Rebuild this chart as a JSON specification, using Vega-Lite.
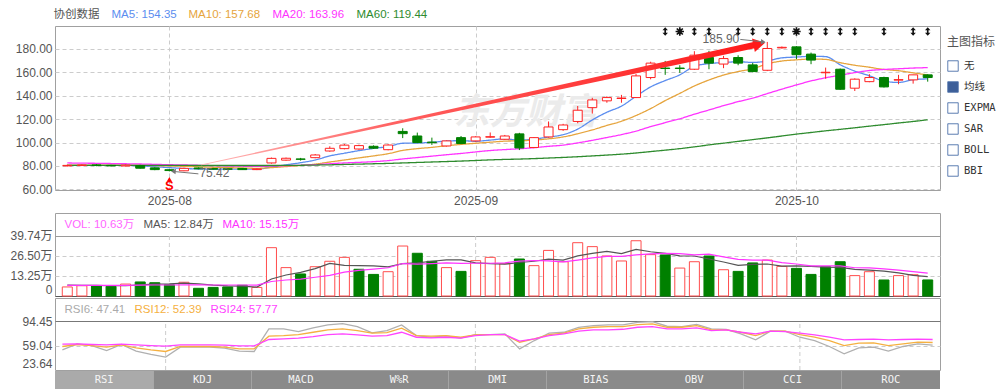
{
  "$schema": "https://vega.github.io/schema/vega-lite/v6.json",
  "background": "#ffffff",
  "padding": {"left": 0, "top": 8, "right": 0, "bottom": 0},
  "spacing": 0,
  "resolve": {"scale": {"color": "independent"}, "legend": {"color": "independent"}},
  "config": {
    "font": "Liberation Sans, Noto Sans CJK SC",
    "view": {"stroke": "#a0a0a0", "strokeWidth": 1},
    "axis": {"labelFont": "Liberation Sans, Noto Sans CJK SC", "labelFontSize": 12, "labelColor": "#555555", "ticks": false, "domain": false, "labelPadding": 3, "labelOverlap": false},
    "axisY": {"minExtent": 54, "maxExtent": 54},
    "legend": {"labelFont": "Liberation Sans, Noto Sans CJK SC", "labelFontSize": 11.5, "labelLimit": 400}
  },
  "datasets": {
    "k": [
      {"i":0,"o":80.1,"h":81.2,"l":79.6,"c":80.5,"v":6.0,"r":1,"m5":80.6,"m10":80.8,"m20":82.6,"m60":80.6,"vm5":7.3,"vm10":7.0,"r6":52.8,"r12":57.6,"r24":61.0},
      {"i":1,"o":80.5,"h":81.3,"l":79.9,"c":80.8,"v":6.8,"r":1,"m5":80.6,"m10":80.8,"m20":82.4,"m60":80.6,"vm5":7.1,"vm10":7.0,"r6":61.4,"r12":60.5,"r24":61.4},
      {"i":2,"o":80.9,"h":81.5,"l":79.8,"c":80.4,"v":6.8,"r":0,"m5":80.6,"m10":80.7,"m20":82.3,"m60":80.6,"vm5":7.0,"vm10":7.0,"r6":59.0,"r12":59.0,"r24":60.5},
      {"i":3,"o":80.5,"h":81.0,"l":79.6,"c":80.1,"v":6.4,"r":0,"m5":80.5,"m10":80.7,"m20":82.1,"m60":80.6,"vm5":6.8,"vm10":7.0,"r6":51.8,"r12":56.6,"r24":60.0},
      {"i":4,"o":80.0,"h":81.3,"l":79.7,"c":80.7,"v":7.9,"r":1,"m5":80.5,"m10":80.7,"m20":81.9,"m60":80.5,"vm5":6.8,"vm10":7.1,"r6":60.5,"r12":60.0,"r24":61.0},
      {"i":5,"o":80.4,"h":81.0,"l":77.8,"c":78.1,"v":9.3,"r":0,"m5":80.1,"m10":80.6,"m20":81.7,"m60":80.5,"vm5":7.4,"vm10":7.2,"r6":50.9,"r12":55.7,"r24":60.0},
      {"i":6,"o":78.4,"h":78.9,"l":76.4,"c":76.9,"v":8.8,"r":0,"m5":79.4,"m10":80.3,"m20":81.4,"m60":80.5,"vm5":7.8,"vm10":7.3,"r6":46.1,"r12":52.8,"r24":59.0},
      {"i":7,"o":76.8,"h":77.3,"l":75.42,"c":76.1,"v":7.5,"r":0,"m5":78.6,"m10":80.0,"m20":81.1,"m60":80.5,"vm5":8.0,"vm10":7.3,"r6":42.2,"r12":50.4,"r24":58.1},
      {"i":8,"o":75.9,"h":78.5,"l":75.6,"c":78.0,"v":9.1,"r":1,"m5":77.9,"m10":79.7,"m20":80.9,"m60":80.5,"vm5":8.5,"vm10":7.4,"r6":56.6,"r12":57.6,"r24":60.0},
      {"i":9,"o":78.3,"h":78.8,"l":77.2,"c":77.6,"v":5.1,"r":0,"m5":77.4,"m10":79.3,"m20":80.6,"m60":80.4,"vm5":8.0,"vm10":7.4,"r6":56.6,"r12":57.6,"r24":60.0},
      {"i":10,"o":77.8,"h":78.4,"l":77.0,"c":77.3,"v":5.7,"r":0,"m5":77.2,"m10":78.9,"m20":80.3,"m60":80.4,"vm5":7.2,"vm10":7.3,"r6":56.6,"r12":57.6,"r24":60.0},
      {"i":11,"o":77.6,"h":78.2,"l":76.9,"c":77.2,"v":6.0,"r":0,"m5":77.3,"m10":78.6,"m20":80.0,"m60":80.4,"vm5":6.7,"vm10":7.3,"r6":55.2,"r12":56.6,"r24":59.5},
      {"i":12,"o":77.9,"h":78.3,"l":76.6,"c":76.9,"v":7.1,"r":0,"m5":77.4,"m10":78.3,"m20":79.8,"m60":80.4,"vm5":6.6,"vm10":7.3,"r6":50.9,"r12":54.2,"r24":58.6},
      {"i":13,"o":76.9,"h":77.9,"l":76.5,"c":77.5,"v":5.7,"r":1,"m5":77.3,"m10":78.0,"m20":79.6,"m60":80.4,"vm5":5.9,"vm10":7.2,"r6":50.4,"r12":54.2,"r24":58.6},
      {"i":14,"o":82.6,"h":87.2,"l":82.0,"c":86.5,"v":32.0,"r":1,"m5":79.1,"m10":78.6,"m20":79.9,"m60":80.4,"vm5":11.3,"vm10":9.6,"r6":83.0,"r12":72.5,"r24":67.7},
      {"i":15,"o":85.0,"h":87.2,"l":84.5,"c":86.6,"v":18.8,"r":1,"m5":81.0,"m10":79.5,"m20":80.3,"m60":80.5,"vm5":13.9,"vm10":10.6,"r6":83.0,"r12":73.4,"r24":68.6},
      {"i":16,"o":86.0,"h":86.9,"l":84.6,"c":85.7,"v":14.6,"r":0,"m5":82.8,"m10":80.4,"m20":80.6,"m60":80.6,"vm5":15.6,"vm10":11.2,"r6":79.2,"r12":74.9,"r24":69.6},
      {"i":17,"o":87.1,"h":90.2,"l":86.6,"c":89.4,"v":19.4,"r":1,"m5":85.1,"m10":81.6,"m20":81.1,"m60":80.8,"vm5":18.1,"vm10":12.4,"r6":84.5,"r12":78.2,"r24":72.0},
      {"i":18,"o":92.8,"h":96.8,"l":92.2,"c":95.1,"v":23.0,"r":1,"m5":88.6,"m10":83.4,"m20":81.9,"m60":81.0,"vm5":21.6,"vm10":13.7,"r6":88.8,"r12":81.6,"r24":74.9},
      {"i":19,"o":94.8,"h":98.8,"l":94.2,"c":97.8,"v":25.6,"r":1,"m5":90.9,"m10":85.1,"m20":82.6,"m60":81.3,"vm5":20.3,"vm10":15.8,"r6":90.7,"r12":83.0,"r24":75.8},
      {"i":20,"o":94.5,"h":98.2,"l":93.8,"c":97.4,"v":17.7,"r":0,"m5":93.1,"m10":86.9,"m20":83.1,"m60":81.6,"vm5":20.1,"vm10":17.0,"r6":86.4,"r12":80.6,"r24":74.3},
      {"i":21,"o":96.8,"h":97.6,"l":94.6,"c":95.2,"v":14.3,"r":0,"m5":95.0,"m10":88.6,"m20":83.7,"m60":81.9,"vm5":20.0,"vm10":17.8,"r6":77.3,"r12":76.8,"r24":72.5},
      {"i":22,"o":93.9,"h":98.6,"l":93.4,"c":97.9,"v":16.1,"r":1,"m5":96.6,"m10":90.5,"m20":84.6,"m60":82.2,"vm5":19.3,"vm10":18.7,"r6":80.6,"r12":77.7,"r24":73.4},
      {"i":23,"o":109.5,"h":112.2,"l":103.8,"c":107.6,"v":33.1,"r":1,"m5":99.4,"m10":93.3,"m20":86.0,"m60":82.6,"vm5":21.4,"vm10":21.5,"r6":88.8,"r12":84.0,"r24":78.2},
      {"i":24,"o":105.6,"h":108.5,"l":99.5,"c":100.0,"v":28.3,"r":0,"m5":99.6,"m10":94.8,"m20":87.2,"m60":83.0,"vm5":21.9,"vm10":21.1,"r6":73.4,"r12":73.4,"r24":71.0},
      {"i":25,"o":100.4,"h":104.2,"l":98.0,"c":99.9,"v":23.0,"r":0,"m5":100.2,"m10":95.9,"m20":88.4,"m60":83.4,"vm5":23.0,"vm10":21.5,"r6":71.0,"r12":72.5,"r24":70.0},
      {"i":26,"o":97.1,"h":101.8,"l":96.6,"c":101.4,"v":18.8,"r":1,"m5":101.3,"m10":97.3,"m20":89.6,"m60":83.8,"vm5":23.9,"vm10":21.9,"r6":72.9,"r12":73.4,"r24":71.0},
      {"i":27,"o":104.2,"h":105.6,"l":98.6,"c":99.2,"v":16.3,"r":0,"m5":101.6,"m10":98.4,"m20":90.7,"m60":84.2,"vm5":23.9,"vm10":21.6,"r6":69.6,"r12":71.0,"r24":69.6},
      {"i":28,"o":101.4,"h":105.4,"l":100.8,"c":104.8,"v":23.4,"r":1,"m5":101.1,"m10":99.4,"m20":92.0,"m60":84.7,"vm5":22.0,"vm10":21.7,"r6":74.9,"r12":74.3,"r24":73.4},
      {"i":29,"o":104.6,"h":108.6,"l":104.0,"c":105.0,"v":25.6,"r":1,"m5":102.1,"m10":100.3,"m20":93.2,"m60":85.2,"vm5":21.4,"vm10":21.7,"r6":74.9,"r12":74.9,"r24":74.9},
      {"i":30,"o":102.8,"h":106.5,"l":102.2,"c":105.6,"v":21.4,"r":1,"m5":103.2,"m10":101.2,"m20":94.0,"m60":85.6,"vm5":21.1,"vm10":22.0,"r6":75.8,"r12":74.9,"r24":74.9},
      {"i":31,"o":107.4,"h":108.3,"l":93.6,"c":95.4,"v":24.5,"r":0,"m5":102.0,"m10":101.5,"m20":94.7,"m60":85.9,"vm5":22.2,"vm10":23.1,"r6":54.2,"r12":63.8,"r24":65.3},
      {"i":32,"o":95.8,"h":104.6,"l":95.2,"c":104.2,"v":20.1,"r":1,"m5":103.0,"m10":102.1,"m20":95.6,"m60":86.3,"vm5":23.0,"vm10":23.5,"r6":66.2,"r12":68.6,"r24":68.6},
      {"i":33,"o":104.8,"h":118.0,"l":104.3,"c":113.3,"v":30.2,"r":1,"m5":104.7,"m10":103.2,"m20":96.8,"m60":86.8,"vm5":24.4,"vm10":23.2,"r6":76.8,"r12":74.9,"r24":73.4},
      {"i":34,"o":111.0,"h":116.0,"l":110.0,"c":115.0,"v":22.7,"r":1,"m5":106.7,"m10":104.8,"m20":97.8,"m60":87.3,"vm5":23.8,"vm10":22.6,"r6":78.2,"r12":76.8,"r24":75.8},
      {"i":35,"o":118.0,"h":131.2,"l":116.5,"c":127.6,"v":35.3,"r":1,"m5":111.5,"m10":107.5,"m20":99.7,"m60":87.9,"vm5":26.6,"vm10":23.8,"r6":85.4,"r12":83.0,"r24":79.7},
      {"i":36,"o":129.8,"h":138.2,"l":124.7,"c":136.4,"v":32.7,"r":1,"m5":119.3,"m10":110.8,"m20":101.9,"m60":88.6,"vm5":28.2,"vm10":25.2,"r6":87.8,"r12":85.4,"r24":81.6},
      {"i":37,"o":135.6,"h":139.5,"l":134.0,"c":138.4,"v":26.5,"r":1,"m5":125.9,"m10":114.6,"m20":104.3,"m60":89.3,"vm5":29.5,"vm10":26.2,"r6":88.8,"r12":86.4,"r24":81.6},
      {"i":38,"o":137.6,"h":140.7,"l":134.0,"c":138.0,"v":23.2,"r":1,"m5":131.1,"m10":118.2,"m20":106.8,"m60":90.1,"vm5":28.1,"vm10":26.2,"r6":88.8,"r12":86.4,"r24":82.5},
      {"i":39,"o":138.4,"h":158.5,"l":138.0,"c":156.9,"v":36.6,"r":1,"m5":139.5,"m10":123.1,"m20":109.8,"m60":91.1,"vm5":30.9,"vm10":27.3,"r6":92.6,"r12":89.3,"r24":85.4},
      {"i":40,"o":155.5,"h":169.0,"l":154.0,"c":167.8,"v":27.4,"r":1,"m5":147.5,"m10":129.0,"m20":113.6,"m60":92.3,"vm5":29.3,"vm10":27.9,"r6":93.6,"r12":90.2,"r24":86.4},
      {"i":41,"o":163.6,"h":169.7,"l":157.8,"c":163.2,"v":27.2,"r":0,"m5":152.9,"m10":135.8,"m20":117.0,"m60":93.5,"vm5":28.2,"vm10":28.2,"r6":86.9,"r12":85.4,"r24":83.0},
      {"i":42,"o":163.6,"h":166.0,"l":159.5,"c":163.2,"v":18.5,"r":1,"m5":157.8,"m10":142.0,"m20":120.3,"m60":94.8,"vm5":26.6,"vm10":28.0,"r6":86.4,"r12":85.4,"r24":83.0},
      {"i":43,"o":162.6,"h":178.0,"l":162.0,"c":174.6,"v":22.7,"r":1,"m5":165.1,"m10":148.3,"m20":124.2,"m60":96.3,"vm5":26.5,"vm10":27.3,"r6":89.7,"r12":87.8,"r24":84.5},
      {"i":44,"o":172.6,"h":178.3,"l":162.6,"c":167.8,"v":26.5,"r":0,"m5":167.4,"m10":153.4,"m20":127.8,"m60":98.0,"vm5":24.5,"vm10":27.7,"r6":83.0,"r12":81.6,"r24":80.6},
      {"i":45,"o":167.0,"h":174.0,"l":163.5,"c":171.7,"v":17.4,"r":1,"m5":168.3,"m10":157.6,"m20":131.5,"m60":99.5,"vm5":22.5,"vm10":25.9,"r6":82.5,"r12":81.6,"r24":81.6},
      {"i":46,"o":172.6,"h":174.5,"l":166.0,"c":167.8,"v":16.3,"r":0,"m5":169.0,"m10":160.6,"m20":134.9,"m60":101.0,"vm5":20.3,"vm10":24.2,"r6":75.8,"r12":78.2,"r24":78.2},
      {"i":47,"o":166.3,"h":168.0,"l":160.0,"c":160.6,"v":21.9,"r":0,"m5":168.4,"m10":163.0,"m20":137.9,"m60":102.5,"vm5":21.0,"vm10":23.8,"r6":67.2,"r12":73.4,"r24":75.8},
      {"i":48,"o":161.7,"h":185.9,"l":161.0,"c":180.3,"v":23.8,"r":1,"m5":169.6,"m10":167.2,"m20":141.8,"m60":104.0,"vm5":21.2,"vm10":23.8,"r6":79.7,"r12":79.7,"r24":79.7},
      {"i":49,"o":180.8,"h":182.0,"l":180.3,"c":181.3,"v":19.6,"r":1,"m5":172.3,"m10":169.6,"m20":145.6,"m60":105.6,"vm5":19.8,"vm10":22.1,"r6":79.7,"r12":79.7,"r24":79.2},
      {"i":50,"o":181.7,"h":182.3,"l":171.2,"c":175.0,"v":18.3,"r":0,"m5":173.0,"m10":170.6,"m20":149.2,"m60":107.2,"vm5":20.0,"vm10":21.2,"r6":71.0,"r12":74.9,"r24":76.8},
      {"i":51,"o":175.5,"h":176.8,"l":166.9,"c":170.4,"v":14.3,"r":0,"m5":173.6,"m10":171.3,"m20":152.6,"m60":108.6,"vm5":19.6,"vm10":19.9,"r6":66.2,"r12":71.0,"r24":74.3},
      {"i":52,"o":159.6,"h":164.0,"l":154.5,"c":160.0,"v":19.4,"r":0,"m5":173.4,"m10":171.0,"m20":155.3,"m60":110.0,"vm5":19.1,"vm10":20.0,"r6":57.6,"r12":66.2,"r24":71.0},
      {"i":53,"o":162.6,"h":163.2,"l":145.0,"c":145.5,"v":22.7,"r":0,"m5":166.4,"m10":168.2,"m20":157.5,"m60":111.3,"vm5":18.9,"vm10":20.0,"r6":47.0,"r12":59.0,"r24":67.2},
      {"i":54,"o":146.4,"h":154.8,"l":144.0,"c":154.1,"v":13.5,"r":1,"m5":161.0,"m10":166.0,"m20":159.7,"m60":112.6,"vm5":17.6,"vm10":18.7,"r6":55.7,"r12":62.4,"r24":67.7},
      {"i":55,"o":152.0,"h":158.4,"l":151.5,"c":155.5,"v":16.1,"r":1,"m5":157.0,"m10":164.3,"m20":161.5,"m60":114.0,"vm5":17.2,"vm10":18.6,"r6":56.6,"r12":62.9,"r24":68.2},
      {"i":56,"o":155.5,"h":156.2,"l":147.0,"c":147.5,"v":10.6,"r":0,"m5":152.5,"m10":162.4,"m20":162.4,"m60":115.3,"vm5":16.5,"vm10":18.0,"r6":50.9,"r12":59.0,"r24":67.2},
      {"i":57,"o":153.3,"h":157.8,"l":149.8,"c":153.7,"v":13.5,"r":1,"m5":151.3,"m10":161.3,"m20":163.0,"m60":116.7,"vm5":15.3,"vm10":17.2,"r6":57.6,"r12":61.4,"r24":67.7},
      {"i":58,"o":153.5,"h":157.8,"l":150.3,"c":157.8,"v":14.1,"r":1,"m5":153.7,"m10":159.5,"m20":163.6,"m60":118.0,"vm5":13.6,"vm10":16.2,"r6":61.4,"r12":63.8,"r24":68.2},
      {"i":59,"o":157.8,"h":158.2,"l":152.0,"c":155.5,"v":10.63,"r":0,"m5":154.35,"m10":157.68,"m20":163.96,"m60":119.44,"vm5":12.84,"vm10":15.15,"r6":59.5,"r12":63.4,"r24":67.7}
    ],
    "mk": [
      {"i":41,"k":"a"},{"i":42,"k":"s"},{"i":43,"k":"a"},{"i":44,"k":"a"},{"i":46,"k":"a"},{"i":47,"k":"a"},{"i":48,"k":"a"},{"i":49,"k":"a"},
      {"i":50,"k":"s"},{"i":51,"k":"a"},{"i":52,"k":"a"},{"i":53,"k":"a"},{"i":54,"k":"a"},{"i":56,"k":"a"},{"i":58,"k":"a"},{"i":59,"k":"a"}
    ],
    "mo": [{"i":7},{"i":28},{"i":50}],
    "hi": [{"i":48,"v":185.9,"t":"185.90"}],
    "lo": [{"i":7,"v":75.42,"t":"75.42"}]
  },
  "vconcat": [
    {
      "width": 885,
      "height": 164,
      "layer": [
        {
          "data": {"values": [{"w": "东方财富"}]},
          "mark": {"type": "text", "font": "Noto Sans CJK SC", "fontSize": 36, "fontWeight": "bold", "fontStyle": "italic", "color": "#ebebeb", "dx": 28, "dy": 5},
          "encoding": {"text": {"field": "w"}}
        },
        {
          "data": {"name": "k"},
          "transform": [{"fold": ["m5", "m10", "m20", "m60"], "as": ["key", "val"]}],
          "mark": {"type": "line", "strokeWidth": 1.3, "interpolate": "monotone"},
          "encoding": {
            "x": {"field": "i", "type": "quantitative", "title": null,
              "scale": {"domain": [-0.5, 59.5], "nice": false, "zero": false},
              "axis": {"values": [7, 28, 50], "tickCount": 60, "labelExpr": "datum.value == 7 ? '2025-08' : datum.value == 28 ? '2025-09' : '2025-10'", "grid": true, "gridColor": "#cccccc", "gridDash": [4, 3], "labelPadding": 5, "labelOverlap": false, "minExtent": 21, "maxExtent": 21}},
            "y": {"field": "val", "type": "quantitative", "title": null,
              "scale": {"domain": [59.5, 199.5], "nice": false, "zero": false},
              "axis": {"values": [60, 80, 100, 120, 140, 160, 180], "tickCount": 20, "format": ".2f", "grid": true, "gridColor": "#cccccc", "gridDash": [4, 3], "labelOverlap": false, "labelFlush": false}},
            "color": {"field": "key", "type": "nominal",
              "scale": {"domain": ["nm", "m5", "m10", "m20", "m60"], "range": ["#555555", "#5b8def", "#e6a43c", "#ff33ff", "#2e8b2e"]},
              "legend": {"orient": "top", "direction": "horizontal", "title": null, "offset": 5, "padding": 0,
                "symbolType": "circle", "symbolSize": 0.01, "symbolOpacity": 0, "symbolStrokeWidth": 0, "labelOffset": -13, "columnPadding": 11,
                "labelExpr": "datum.value == 'nm' ? '协创数据' : datum.value == 'm5' ? 'MA5: 154.35' : datum.value == 'm10' ? 'MA10: 157.68' : datum.value == 'm20' ? 'MA20: 163.96' : 'MA60: 119.44'",
                "labelColor": {"expr": "datum.value == 'nm' ? '#555555' : datum.value == 'm5' ? '#5b8def' : datum.value == 'm10' ? '#e6a43c' : datum.value == 'm20' ? '#ff33ff' : '#2e8b2e'"}}},
            "strokeDash": {"datum": "均线", "type": "nominal",
              "scale": {"domain": ["无", "均线", "EXPMA", "SAR", "BOLL", "BBI"], "range": [[1, 0], [1, 0], [1, 0], [1, 0], [1, 0], [1, 0]]},
              "legend": {"orient": "right", "title": "主图指标", "titleFontSize": 12, "titleFontWeight": "normal", "titleColor": "#555555", "titlePadding": 11,
                "offset": -5, "padding": 11, "symbolType": "square", "symbolSize": 110, "symbolStrokeColor": "#4a6fa8", "symbolStrokeWidth": 1,
                "symbolFillColor": {"expr": "datum.value == '均线' ? '#3d5f99' : '#ffffff'"},
                "labelFont": "DejaVu Sans Mono, Noto Sans CJK SC", "labelFontSize": 10.5, "labelColor": "#333333", "labelOffset": 5, "rowPadding": 5}}
          }
        },
        {
          "data": {"name": "k"},
          "mark": {"type": "rule", "strokeWidth": 1},
          "encoding": {
            "x": {"field": "i", "type": "quantitative", "title": null},
            "y": {"field": "l", "type": "quantitative", "title": null},
            "y2": {"field": "h"},
            "color": {"condition": {"test": "datum.c >= datum.o", "value": "#ff2222"}, "value": "#008000"}
          }
        },
        {
          "data": {"name": "k"},
          "mark": {"type": "bar", "size": 9, "strokeWidth": 1},
          "encoding": {
            "x": {"field": "i", "type": "quantitative", "title": null},
            "y": {"field": "o", "type": "quantitative", "title": null},
            "y2": {"field": "c"},
            "fill": {"condition": {"test": "datum.c >= datum.o", "value": "#ffffff"}, "value": "#008000"},
            "stroke": {"condition": {"test": "datum.c >= datum.o", "value": "#ff2222"}, "value": "#008000"}
          }
        },
        {
          "data": {"values": [{"i": 9.2, "p": 80.9}, {"i": 47.1, "p": 183.2}]},
          "mark": {"type": "trail", "color": {"gradient": "linear", "x1": 0, "y1": 0, "x2": 1, "y2": 0, "stops": [{"offset": 0, "color": "#ffb8b8"}, {"offset": 0.35, "color": "#ff6060"}, {"offset": 1, "color": "#ff1a1a"}]}},
          "encoding": {
            "x": {"field": "i", "type": "quantitative", "title": null},
            "y": {"field": "p", "type": "quantitative", "title": null},
            "size": {"field": "i", "type": "quantitative", "scale": {"domain": [9.2, 47.1], "range": [0.8, 6.5]}, "legend": null}
          }
        },
        {
          "data": {"values": [{"i": 47.45, "p": 184.1}]},
          "mark": {"type": "point", "shape": "triangle-right", "filled": true, "size": 190, "angle": -12, "color": "#ff1a1a", "opacity": 1},
          "encoding": {
            "x": {"field": "i", "type": "quantitative", "title": null},
            "y": {"field": "p", "type": "quantitative", "title": null}
          }
        },
        {
          "data": {"name": "mk"},
          "transform": [{"filter": "datum.k == 'a'"}],
          "mark": {"type": "point", "shape": "M0,-1L0.65,-0.3L0.2,-0.3L0.2,0.3L0.65,0.3L0,1L-0.65,0.3L-0.2,0.3L-0.2,-0.3L-0.65,-0.3Z", "filled": true, "size": 70, "color": "#111111", "opacity": 1},
          "encoding": {
            "x": {"field": "i", "type": "quantitative", "title": null},
            "y": {"datum": 194.8, "type": "quantitative", "title": null}
          }
        },
        {
          "data": {"name": "mk"},
          "transform": [{"filter": "datum.k == 's'"}],
          "mark": {"type": "point", "shape": "M0,-1L0,1M-1,0L1,0M-0.72,-0.72L0.72,0.72M-0.72,0.72L0.72,-0.72", "filled": false, "strokeWidth": 1.7, "size": 70, "color": "#111111", "opacity": 1},
          "encoding": {
            "x": {"field": "i", "type": "quantitative", "title": null},
            "y": {"datum": 194.8, "type": "quantitative", "title": null}
          }
        },
        {
          "data": {"name": "hi"},
          "mark": {"type": "text", "align": "right", "baseline": "middle", "dx": -28, "dy": -3, "fontSize": 12, "color": "#666666"},
          "encoding": {
            "x": {"field": "i", "type": "quantitative", "title": null},
            "y": {"field": "v", "type": "quantitative", "title": null},
            "text": {"field": "t"}
          }
        },
        {
          "data": {"name": "hi"},
          "mark": {"type": "rule", "color": "#777777", "strokeWidth": 1, "xOffset": -3, "x2Offset": -27, "y2Offset": -2.5},
          "encoding": {
            "x": {"field": "i", "type": "quantitative", "title": null},
            "x2": {"field": "i"},
            "y": {"field": "v", "type": "quantitative", "title": null},
            "y2": {"field": "v"}
          }
        },
        {
          "data": {"name": "hi"},
          "mark": {"type": "point", "shape": "triangle-right", "filled": true, "size": 30, "angle": 5, "xOffset": -4, "color": "#777777", "opacity": 1},
          "encoding": {
            "x": {"field": "i", "type": "quantitative", "title": null},
            "y": {"field": "v", "type": "quantitative", "title": null}
          }
        },
        {
          "data": {"name": "lo"},
          "mark": {"type": "text", "align": "left", "baseline": "middle", "dx": 30, "dy": 2, "fontSize": 12, "color": "#666666"},
          "encoding": {
            "x": {"field": "i", "type": "quantitative", "title": null},
            "y": {"field": "v", "type": "quantitative", "title": null},
            "text": {"field": "t"}
          }
        },
        {
          "data": {"name": "lo"},
          "mark": {"type": "rule", "color": "#777777", "strokeWidth": 1, "xOffset": 3, "x2Offset": 29, "y2Offset": 2.5},
          "encoding": {
            "x": {"field": "i", "type": "quantitative", "title": null},
            "x2": {"field": "i"},
            "y": {"field": "v", "type": "quantitative", "title": null},
            "y2": {"field": "v"}
          }
        },
        {
          "data": {"name": "lo"},
          "mark": {"type": "point", "shape": "triangle-left", "filled": true, "size": 30, "angle": 5, "xOffset": 4, "color": "#777777", "opacity": 1},
          "encoding": {
            "x": {"field": "i", "type": "quantitative", "title": null},
            "y": {"field": "v", "type": "quantitative", "title": null}
          }
        },
        {
          "data": {"name": "lo"},
          "mark": {"type": "point", "shape": "triangle-up", "filled": true, "size": 30, "yOffset": 8, "color": "#ff0000", "opacity": 1},
          "encoding": {
            "x": {"field": "i", "type": "quantitative", "title": null},
            "y": {"field": "v", "type": "quantitative", "title": null}
          }
        },
        {
          "data": {"name": "lo"},
          "mark": {"type": "text", "baseline": "middle", "dy": 15, "fontSize": 13, "fontWeight": "bold", "color": "#ff0000"},
          "encoding": {
            "x": {"field": "i", "type": "quantitative", "title": null},
            "y": {"field": "v", "type": "quantitative", "title": null},
            "text": {"value": "S"}
          }
        }
      ]
    },
    {
      "width": 885,
      "height": 83,
      "layer": [
        {
          "data": {"name": "mo"},
          "mark": {"type": "rule", "color": "#cccccc", "strokeDash": [4, 3]},
          "encoding": {
            "x": {"field": "i", "type": "quantitative", "title": null, "scale": {"domain": [-0.5, 59.5], "nice": false, "zero": false}, "axis": null},
            "y": {"datum": 0, "type": "quantitative", "title": null},
            "y2": {"datum": 39.74}
          }
        },
        {
          "data": {"name": "k"},
          "mark": {"type": "bar", "size": 10, "strokeWidth": 1, "orient": "vertical"},
          "encoding": {
            "x": {"field": "i", "type": "quantitative", "title": null},
            "y": {"field": "v", "type": "quantitative", "title": null,
              "scale": {"domain": [0, 54.97], "nice": false, "zero": false},
              "axis": {"values": [0, 13.25, 26.5, 39.74], "tickCount": 20, "labelExpr": "datum.value == 0 ? '0' : format(datum.value, '.2f') + '万'", "grid": true, "labelOverlap": false, "labelFlush": 0.5,
                "gridColor": {"condition": [{"test": "datum.value > 39", "value": "#9a9a9a"}, {"test": "datum.value < 1", "value": "#555555"}], "value": "#cccccc"},
                "gridDash": {"condition": {"test": "datum.value > 13 && datum.value < 27", "value": [4, 3]}, "value": []}}},
            "fill": {"condition": {"test": "datum.r == 1", "value": "#ffffff"}, "value": "#008000"},
            "stroke": {"condition": {"test": "datum.r == 1", "value": "#ff4d4d"}, "value": "#008000"}
          }
        },
        {
          "data": {"name": "k"},
          "transform": [{"fold": ["vm5", "vm10"], "as": ["key", "val"]}],
          "mark": {"type": "line", "strokeWidth": 1.2},
          "encoding": {
            "x": {"field": "i", "type": "quantitative", "title": null},
            "y": {"field": "val", "type": "quantitative", "title": null},
            "color": {"field": "key", "type": "nominal",
              "scale": {"domain": ["vol", "vm5", "vm10"], "range": ["#ff66ff", "#555555", "#ff33ff"]},
              "legend": {"orient": "top-left", "direction": "horizontal", "title": null, "offset": 6, "padding": 0,
                "symbolType": "circle", "symbolSize": 0.01, "symbolOpacity": 0, "symbolStrokeWidth": 0, "labelOffset": -8, "columnPadding": 5,
                "labelExpr": "datum.value == 'vol' ? 'VOL: 10.63万' : datum.value == 'vm5' ? 'MA5: 12.84万' : 'MA10: 15.15万'",
                "labelColor": {"expr": "datum.value == 'vol' ? '#ff66ff' : datum.value == 'vm5' ? '#555555' : '#ff33ff'"}}}
          }
        }
      ]
    },
    {
      "width": 885,
      "height": 72,
      "layer": [
        {
          "data": {"name": "mo"},
          "mark": {"type": "rule", "color": "#cccccc", "strokeDash": [4, 3]},
          "encoding": {
            "x": {"field": "i", "type": "quantitative", "title": null, "scale": {"domain": [-0.5, 59.5], "nice": false, "zero": false}, "axis": null},
            "y": {"datum": 23.64, "type": "quantitative", "title": null},
            "y2": {"datum": 94.45}
          }
        },
        {
          "data": {"name": "k"},
          "transform": [{"fold": ["r6", "r12", "r24"], "as": ["key", "val"]}],
          "mark": {"type": "line", "strokeWidth": 1.3},
          "encoding": {
            "x": {"field": "i", "type": "quantitative", "title": null},
            "y": {"field": "val", "type": "quantitative", "title": null,
              "scale": {"domain": [23.64, 127.7], "nice": false, "zero": false},
              "axis": {"values": [23.64, 59.04, 94.45], "tickCount": 20, "format": ".2f", "grid": true, "labelOverlap": false, "labelFlush": 0.5,
                "gridColor": {"condition": {"test": "datum.value > 90", "value": "#777777"}, "value": "#cccccc"},
                "gridDash": {"condition": {"test": "datum.value > 50 && datum.value < 60", "value": [4, 3]}, "value": []},
                "gridOpacity": {"condition": {"test": "datum.value < 30", "value": 0}, "value": 1}}},
            "color": {"field": "key", "type": "nominal",
              "scale": {"domain": ["r6", "r12", "r24"], "range": ["#b0b0b0", "#f5b041", "#ff44ff"]},
              "legend": {"orient": "top-left", "direction": "horizontal", "title": null, "offset": 6, "padding": 0,
                "symbolType": "circle", "symbolSize": 0.01, "symbolOpacity": 0, "symbolStrokeWidth": 0, "labelOffset": -8, "columnPadding": 5,
                "labelExpr": "datum.value == 'r6' ? 'RSI6: 47.41' : datum.value == 'r12' ? 'RSI12: 52.39' : 'RSI24: 57.77'",
                "labelColor": {"expr": "datum.value == 'r6' ? '#aaaaaa' : datum.value == 'r12' ? '#f5b041' : '#ff44ff'"}}}
          }
        }
      ]
    },
    {
      "width": 885,
      "height": 18,
      "view": {"stroke": null},
      "data": {"values": [{"t": "RSI"}, {"t": "KDJ"}, {"t": "MACD"}, {"t": "W%R"}, {"t": "DMI"}, {"t": "BIAS"}, {"t": "OBV"}, {"t": "CCI"}, {"t": "ROC"}]},
      "encoding": {
        "x": {"field": "t", "type": "nominal", "sort": null, "axis": null, "scale": {"paddingInner": 0, "paddingOuter": 0}}
      },
      "layer": [
        {"mark": {"type": "bar"}, "encoding": {"fill": {"condition": {"test": "datum.t == 'RSI'", "value": "#aaaaaa"}, "value": "#8a8a8a"}}},
        {"mark": {"type": "text", "font": "DejaVu Sans Mono", "fontSize": 10.5, "color": "#f5f5f5"}, "encoding": {"text": {"field": "t"}}}
      ]
    }
  ]
}
